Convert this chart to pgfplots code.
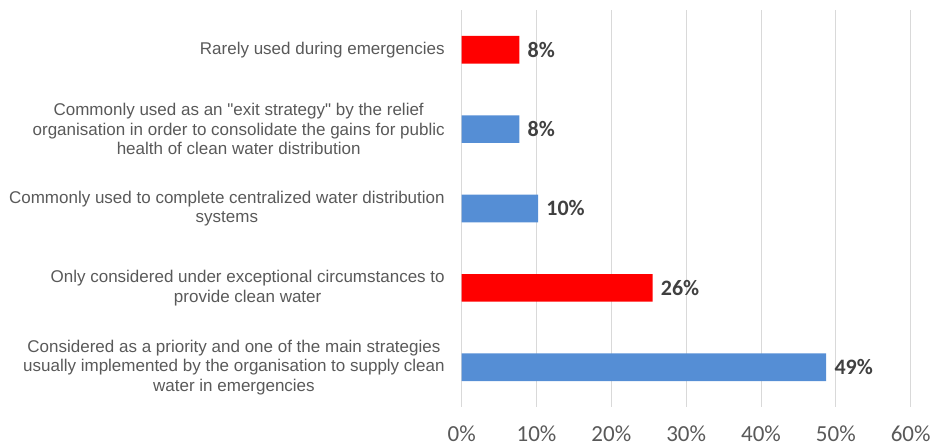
\documentclass[border=0pt]{standalone}
\usepackage{fontspec}
\setmainfont{Liberation Sans}
\newfontfamily\carlito{Carlito}
\usepackage{pgfplots}
\pgfplotsset{compat=1.18}
\definecolor{barblue}{HTML}{558ED5}
\definecolor{barred}{HTML}{FF0000}
\definecolor{lbl}{HTML}{404040}
\definecolor{tck}{HTML}{595959}
\definecolor{grd}{HTML}{D9D9D9}
\begin{document}
\begin{tikzpicture}
\useasboundingbox (-230.85pt,-18.5pt) rectangle (235.15pt,203.5pt);
\begin{axis}[
  at={(0,0)}, anchor=south west,
  width=224.5pt, height=198.5pt, scale only axis,
  xbar, bar width=13.8pt, bar shift=0pt,
  xmin=0, xmax=60, ymin=-0.5, ymax=4.5,
  axis line style={draw=none},
  major tick length=0pt,
  xmajorgrids, grid style={grd, line width=0.5pt},
  xtick={0,10,20,30,40,50,60},
  xticklabels={0\%,10\%,20\%,30\%,40\%,50\%,60\%},
  xticklabel style={font=\carlito\fontsize{11.5}{11.5}\selectfont, text=tck, inner sep=0pt, anchor=north, yshift=-9pt},
  ytick={0,1,2,3,4},
  yticklabels={
    {Considered as a priority and one of the main strategies\\usually implemented by the organisation to supply clean\\water in emergencies},
    {Only considered under exceptional circumstances to\\provide clean water},
    {Commonly used to complete centralized water distribution\\systems},
    {Commonly used as an \textquotedbl exit strategy\textquotedbl{} by the relief\\organisation in order to consolidate the gains for public\\health of clean water distribution},
    {Rarely used during emergencies}},
  yticklabel style={align=center, font=\fontsize{8.5}{9.8}\selectfont, text=tck, inner sep=0pt, anchor=east, xshift=-8.3pt},
  nodes near coords,
  point meta=explicit symbolic,
  nodes near coords style={font=\carlito\bfseries\fontsize{11}{11}\selectfont, text=lbl, anchor=west, inner sep=0pt, xshift=4pt},
]
\addplot[fill=barblue, draw=none] coordinates {(48.7,0)[49\%] (10.2,2)[10\%] (7.7,3)[8\%]};
\addplot[fill=barred, draw=none] coordinates {(25.5,1)[26\%] (7.7,4)[8\%]};
\end{axis}
\end{tikzpicture}
\end{document}
